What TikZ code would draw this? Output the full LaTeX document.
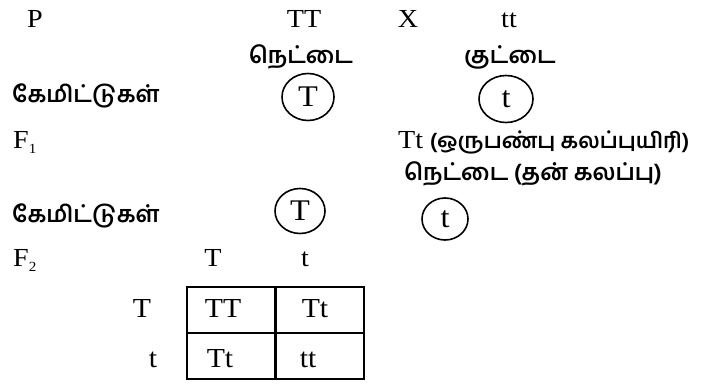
\documentclass[tikz,border=0pt]{standalone}
\usepackage{fontspec}
\usetikzlibrary{shapes.geometric}
\setmainfont{Liberation Serif}[FakeStretch=1.08]
\newfontfamily\tamil[Script=Tamil]{Hind Madurai}
\begin{document}
\begin{tikzpicture}[x=1pt,y=-1pt,
  lat/.style={inner sep=0pt,font=\fontsize{26}{30}\selectfont},
  big/.style={inner sep=0pt,font=\fontsize{27.5}{32}\selectfont},
  tam/.style={inner sep=0pt,font=\tamil\bfseries\fontsize{23}{28}\selectfont},
  gam/.style={ellipse,draw,line width=1.6pt,inner sep=0pt,font=\fontsize{30}{34}\selectfont},
  cell/.style={draw,line width=2pt,inner sep=0pt,minimum width=89pt,minimum height=46pt}]
\useasboundingbox (0,0) rectangle (704,383);
% row 1
\node[lat,anchor=base] (P) at (35,27) {P};
\node[lat,anchor=base] (TT) at (304,27) {TT};
\node[lat,anchor=base] (X) at (408,27) {X};
\node[lat,anchor=base] (tt) at (509,27) {tt};
% row 2
\node[tam] (tall) at (301,57) {நெட்டை};
\node[tam] (short) at (510,57) {குட்டை};
% gametes 1
\node[tam,anchor=west] (gam1) at (12,96) {கேமிட்டுகள்};
\node[gam,minimum width=52pt,minimum height=47pt] (gT1) at (308,97) {T};
\node[gam,minimum width=54pt,minimum height=47pt] (gt1) at (506,99) {t};
% F1
\node[lat,anchor=base west] (F1) at (13,148) {F{\fontsize{14}{14}\selectfont\raisebox{-5pt}{1}}};
\node[lat,anchor=base west] (hyb) at (398,148) {Tt {\tamil\bfseries\fontsize{21.5}{26}\selectfont (ஒருபண்பு கலப்புயிரி)}};
\node[tam,anchor=west] (self) at (404,174) {நெட்டை (தன் கலப்பு)};
% gametes 2
\node[tam,anchor=west] (gam2) at (12,216) {கேமிட்டுகள்};
\node[gam,minimum width=50pt,minimum height=45pt] (gT2) at (300,211) {T};
\node[gam,minimum width=46pt,minimum height=42pt] (gt2) at (445,219) {t};
% F2
\node[lat,anchor=base west] (F2) at (13,266) {F{\fontsize{14}{14}\selectfont\raisebox{-5pt}{2}}};
\node[lat,anchor=base] (hT) at (213,266) {T};
\node[lat,anchor=base] (ht) at (305,266) {t};
\node[big,anchor=base] (rT) at (142,317) {T};
\node[big,anchor=base] (rt) at (153,367) {t};
% table
\node[cell] (c11) at (231.5,309.5) {};
\node[cell] (c12) at (319.5,309.5) {};
\node[cell] (c21) at (231.5,356) {};
\node[cell] (c22) at (319.5,356) {};
\node[big,anchor=base] (v11) at (223,317) {TT};
\node[big,anchor=base] (v12) at (315,317) {Tt};
\node[big,anchor=base] (v21) at (220,367) {Tt};
\node[big,anchor=base] (v22) at (308,367) {tt};
\end{tikzpicture}
\end{document}
